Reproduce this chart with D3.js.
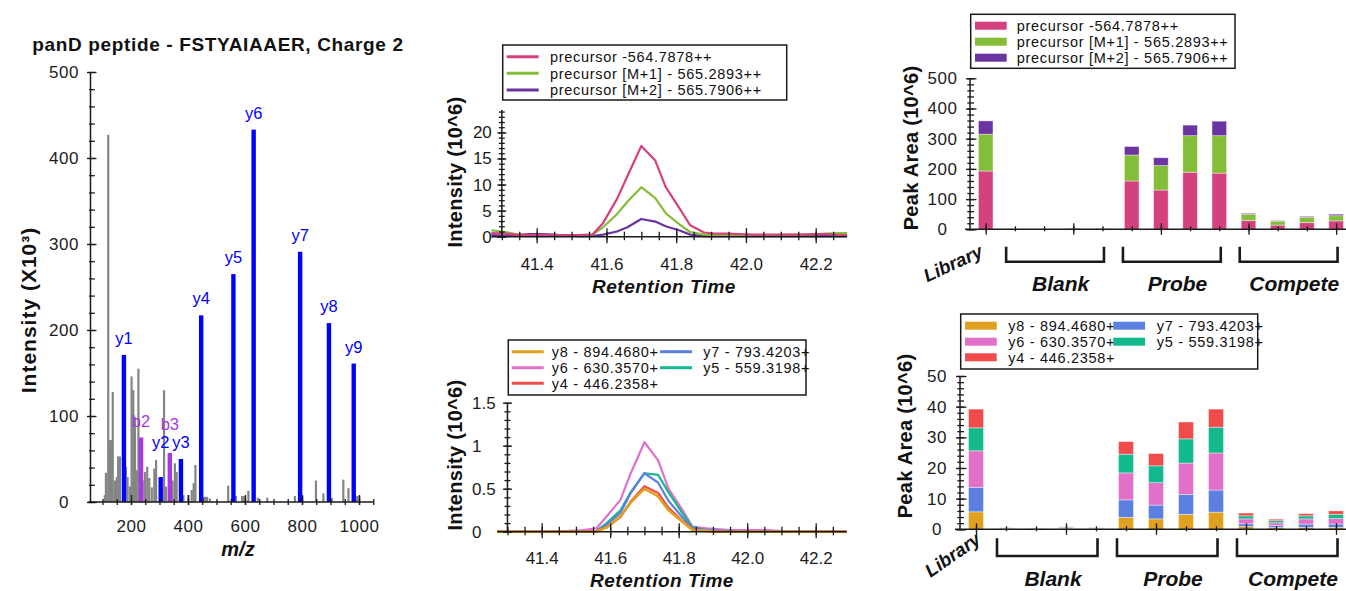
<!DOCTYPE html>
<html>
<head>
<meta charset="utf-8">
<title>panD peptide - FSTYAIAAER</title>
<script src="https://cdn.jsdelivr.net/npm/d3@7"></script>
<style>
  body { margin: 0; background: #fff; }
  svg text { font-family: "Liberation Sans", Arial, Helvetica, sans-serif; }
</style>
</head>
<body>
<svg id="fig" width="1346" height="591"></svg>
<script>
// ---------- data: MS/MS spectrum (intensity x10^3) ----------
var grayMz  = [108, 112, 120, 124, 130, 136, 144, 150, 155, 161, 182, 188, 196, 202, 208, 214, 220, 226,
               241, 249, 257, 264, 273, 282, 288, 308, 316, 323, 346, 354, 360, 384, 401, 413, 420, 426,
               453, 460, 467, 477, 541, 568, 590, 597, 612, 645, 678, 775, 801, 849, 875, 904, 945, 963, 993, 1001];
var grayInt = [8, 34, 427, 72, 72, 128, 25, 29, 53, 53, 41, 29, 18, 146, 130, 99, 37, 155,
               25, 35, 41, 28, 17, 39, 49, 14, 130, 18, 25, 45, 35, 8, 8, 14, 22, 43,
               6, 6, 6, 4, 19, 7, 7, 7, 13, 5, 5, 7, 7, 25, 10, 5, 26, 16, 7, 7];
var ionNames = ["y1", "b2", "y2", "b3", "y3", "y4", "y5", "y6", "y7", "y8", "y9"];
var ionMz    = [175.12, 235.11, 304.16, 336.16, 375.20, 446.24, 559.32, 630.36, 793.42, 894.47, 981.50];
var ionInt   = [171, 75, 29, 57, 50, 217, 265, 433, 291, 208, 161];

// ---------- data: chromatograms ----------
var rtTimes = [41.27, 41.31, 41.34, 41.38, 41.41, 41.45, 41.48, 41.52, 41.56, 41.59, 41.63, 41.66, 41.70, 41.74, 41.77,
               41.81, 41.84, 41.88, 41.91, 41.95, 41.98, 42.02, 42.06, 42.09, 42.13, 42.16, 42.20, 42.23, 42.27, 42.29];
var precM0 = [0.7, 0.6, 0.4, 0.3, 0.3, 0.3, 0.3, 0.3, 0.4, 2.6, 7.2, 11.6, 17.4, 14.6, 9.5,
              5.4, 2.2, 0.8, 0.6, 0.6, 0.5, 0.4, 0.4, 0.4, 0.4, 0.4, 0.5, 0.5, 0.3, 0.3];
var precM1 = [1.2, 0.9, 0.5, 0.2, 0.2, 0.2, 0.3, 0.3, 0.4, 1.8, 4.3, 6.7, 9.5, 7.4, 4.5,
              2.3, 0.9, 0.4, 0.3, 0.3, 0.2, 0.2, 0.2, 0.3, 0.4, 0.4, 0.5, 0.6, 0.7, 0.7];
var precM2 = [0.3, 0.2, 0.3, 0.5, 0.5, 0.4, 0.2, 0.1, 0.1, 0.4, 1.0, 1.8, 3.4, 2.9, 2.0,
              1.2, 0.4, 0.1, 0.1, 0.1, 0.1, 0.1, 0.1, 0.1, 0.1, 0.1, 0.1, 0.1, 0.1, 0.1];
var fragY8 = [0, 0, 0, 0, 0, 0, 0, 0, 0, 0.05, 0.18, 0.34, 0.50, 0.41, 0.25,
              0.12, 0.02, 0.01, 0, 0, 0, 0, 0, 0, 0, 0, 0, 0, 0, 0];
var fragY7 = [0, 0, 0, 0, 0, 0, 0, 0, 0.01, 0.08, 0.22, 0.45, 0.68, 0.57, 0.36,
              0.17, 0.04, 0.02, 0.01, 0, 0, 0, 0, 0, 0, 0, 0, 0, 0, 0];
var fragY6 = [0, 0, 0, 0, 0, 0, 0.01, 0.02, 0.04, 0.18, 0.37, 0.68, 1.04, 0.83, 0.50,
              0.26, 0.06, 0.04, 0.03, 0.02, 0.02, 0.02, 0.02, 0.01, 0, 0, 0, 0, 0, 0];
var fragY5 = [0, 0, 0, 0, 0, 0, 0, 0, 0.01, 0.10, 0.25, 0.46, 0.68, 0.66, 0.46,
              0.22, 0.05, 0.02, 0.01, 0.01, 0, 0, 0, 0, 0, 0, 0, 0, 0, 0];
var fragY4 = [0, 0, 0, 0, 0, 0, 0, 0, 0.01, 0.05, 0.17, 0.35, 0.53, 0.45, 0.28,
              0.13, 0.03, 0.01, 0, 0, 0, 0, 0, 0, 0, 0, 0, 0, 0, 0];

// ---------- data: peak areas (10^6) ----------
var replicates = ["Library", "Blank 1", "Blank 2", "Blank 3", "Blank 4", "Probe 1", "Probe 2", "Probe 3", "Probe 4",
                  "Compete 1", "Compete 2", "Compete 3", "Compete 4"];
var groupNames = ["Blank", "Probe", "Compete"];
var areaM0 = [193, 0.5, 0.5, 2, 1.5, 160, 130, 189, 186, 29, 14, 22, 28];
var areaM1 = [122, 0.3, 0.3, 1.5, 1, 86, 81, 121, 124, 21, 13, 18, 17];
var areaM2 = [44, 0.2, 0.1, 0.5, 0.5, 28, 26, 35, 48, 3, 2, 3, 5];
var areaY8 = [5.7, 0.1, 0.05, 0.15, 0.1, 3.9, 3.4, 4.9, 5.6, 0.9, 0.6, 0.65, 0.65];
var areaY7 = [8.0, 0.1, 0.05, 0.15, 0.1, 5.7, 4.5, 6.5, 7.2, 0.9, 0.6, 1.05, 1.05];
var areaY6 = [11.9, 0.15, 0.1, 0.2, 0.15, 8.8, 7.3, 10.2, 12.1, 1.6, 0.9, 1.7, 1.8];
var areaY5 = [7.5, 0.1, 0.05, 0.2, 0.1, 6.1, 5.5, 7.9, 8.4, 1.0, 0.7, 1.0, 1.4];
var areaY4 = [6.1, 0.05, 0.05, 0.1, 0.05, 4.1, 4.0, 5.5, 5.9, 0.9, 0.5, 0.7, 1.1];

var precLabels = ["precursor -564.7878++", "precursor [M+1] - 565.2893++", "precursor [M+2] - 565.7906++"];
var fragLabels = ["y8 - 894.4680+", "y7 - 793.4203+", "y6 - 630.3570+", "y5 - 559.3198+", "y4 - 446.2358+"];
var precColors = ["#d4417f", "#84bd37", "#6a35a0"];
var fragColors = ["#e0a020", "#5b80e0", "#e070c8", "#12b98c", "#f04c4c"];

var svg = d3.select("#fig");
svg.append("rect").attr("width", 1346).attr("height", 591).attr("fill", "#fff");
var INK = "#1a1a1a";

// ticks that cross the axis line: a = outside length, b = inside length
function crossTicks(vertical, pos, scale, vals, a, b, sw) {
  [0, 1].forEach(function (side) {
    var ax;
    if (vertical) ax = side ? d3.axisRight(scale) : d3.axisLeft(scale);
    else ax = side ? d3.axisTop(scale) : d3.axisBottom(scale);
    var g = svg.append("g")
      .attr("transform", vertical ? "translate(" + pos + ",0)" : "translate(0," + pos + ")")
      .call(ax.tickValues(vals).tickSize(side ? b : a).tickFormat(""));
    g.select(".domain").remove();
    g.selectAll("line").attr("stroke", INK).attr("stroke-width", sw || 1.3);
  });
}

function tickText(vertical, pos, scale, vals, pad, fmt) {
  var ax = vertical ? d3.axisLeft(scale) : d3.axisBottom(scale);
  var g = svg.append("g")
    .attr("transform", vertical ? "translate(" + pos + ",0)" : "translate(0," + pos + ")")
    .call(ax.tickValues(vals).tickSize(0).tickPadding(pad).tickFormat(fmt));
  g.select(".domain").remove();
  g.selectAll("text").attr("font-size", 17).attr("fill", "#1c1c1c");
  return g;
}

function line(x1, y1, x2, y2, w) {
  return svg.append("line").attr("x1", x1).attr("y1", y1).attr("x2", x2).attr("y2", y2)
    .attr("stroke", INK).attr("stroke-width", w || 1.5);
}

function label(txt, x, y, size, opts) {
  opts = opts || {};
  var t = svg.append("text").attr("x", x).attr("y", y).attr("font-size", size)
    .attr("text-anchor", opts.anchor || "middle").attr("fill", opts.fill || "#111")
    .attr("font-weight", opts.bold ? "bold" : null)
    .attr("font-style", opts.italic ? "italic" : null)
    .attr("letter-spacing", opts.ls || 0)
    .text(txt);
  if (opts.rotate) {
    t.attr("x", 0).attr("y", 0).attr("dy", opts.dy || null)
      .attr("transform", "translate(" + x + "," + y + ") rotate(" + opts.rotate + ")");
  }
  return t;
}

// ================= Panel 1: spectrum =================
var xS = d3.scaleLinear().domain([200, 1000]).range([131, 359]);
var yS = d3.scaleLinear().domain([0, 500]).range([502, 72]);

svg.append("g").selectAll("rect").data(grayMz).join("rect")
  .attr("x", function (d) { return xS(d) - 1.1; }).attr("width", 2.2)
  .attr("y", function (d, i) { return yS(grayInt[i]); })
  .attr("height", function (d, i) { return yS(0) - yS(grayInt[i]); })
  .attr("fill", "#858585");

var ionColor = function (n) { return n[0] === "b" ? "#a838e0" : "#0000ff"; };
svg.append("g").selectAll("rect").data(ionMz).join("rect")
  .attr("x", function (d) { return xS(d) - 2.2; }).attr("width", 4.4)
  .attr("y", function (d, i) { return yS(ionInt[i]); })
  .attr("height", function (d, i) { return yS(0) - yS(ionInt[i]); })
  .attr("fill", function (d, i) { return ionColor(ionNames[i]); });

// ion labels: sit above their bar, raised when they hit another label or ion bar
var FS = 16.5, ASC = 0.8 * FS, DSC = 0.22 * FS;
var placed = [];
d3.range(ionMz.length).sort(function (a, b) { return ionMz[b] - ionMz[a]; }).forEach(function (i) {
  var x = xS(ionMz[i]);
  var t = label(ionNames[i], x, 0, FS, { fill: ionColor(ionNames[i]) });
  var w = t.node().getComputedTextLength();
  var base = yS(ionInt[i]) - 11;
  for (var k = 0; k < 10; k++) {
    var box = [x - w / 2, base - ASC, x + w / 2, base + DSC];
    var hits = placed.slice();
    ionMz.forEach(function (m, j) {
      if (j !== i) hits.push([xS(m) - 2.2, yS(ionInt[j]), xS(m) + 2.2, yS(0)]);
    });
    hits = hits.filter(function (o) { return box[0] < o[2] && box[2] > o[0] && box[1] < o[3] && box[3] > o[1]; });
    if (!hits.length) break;
    base = d3.min(hits, function (o) { return o[1]; }) - DSC - 1;
  }
  t.attr("y", base);
  placed.push([x - w / 2, base - ASC, x + w / 2, base + DSC]);
});

line(90.5, yS(0), 90.5, yS(500));
line(xS(50), yS(0), xS(1050), yS(0));
crossTicks(true, 90.5, yS, d3.range(0, 501, 20), 1.5, 4.3);
crossTicks(true, 90.5, yS, d3.range(0, 501, 100), 3.5, 6);
crossTicks(false, yS(0), xS, d3.range(100, 1051, 50), 3, 3);
crossTicks(false, yS(0), xS, d3.range(200, 1001, 200), 3, 7);
tickText(true, 90.5, yS, d3.range(0, 501, 100), 11, d3.format("d"))
  .selectAll("text").attr("text-anchor", "middle").attr("x", 64 - 90.5).attr("letter-spacing", 0.5);
tickText(false, yS(0), xS, d3.range(200, 1001, 200), 18, d3.format("d"))
  .selectAll("text").attr("letter-spacing", 0.5);

label("panD peptide - FSTYAIAAER, Charge 2", 218, 51, 19, { bold: true, ls: 0.65 });
label("Intensity (X10\u00B3)", 28, 310, 21, { bold: true, rotate: -90, dy: "0.36em", ls: 1 });
label("m/z", 238, 556, 20, { bold: true, italic: true });

// ================= Panels 2 & 3: chromatograms =================
function chromPanel(cfg) {
  var x = d3.scaleLinear().domain([41.4, 42.2]).range(cfg.xr);
  var y = d3.scaleLinear().domain([0, cfg.ymax]).range([cfg.y0, cfg.ytop]);
  var ax = x(41.3);
  var gen = d3.line().x(function (d, i) { return x(rtTimes[i]); }).y(function (d) { return y(d); });
  cfg.order.forEach(function (k) {
    svg.append("path").attr("d", gen(cfg.series[k])).attr("fill", "none")
      .attr("stroke", cfg.colors[k]).attr("stroke-width", cfg.lw[k]).attr("stroke-linejoin", "round");
  });
  line(x(41.27), cfg.y0, x(42.29), cfg.y0);
  line(ax, cfg.y0, ax, cfg.ytop);
  crossTicks(true, ax, y, cfg.yMinor, 3, 3);
  crossTicks(true, ax, y, cfg.yMajor, 4.5, 4.5);
  var minors = d3.range(0, 20).map(function (i) { return 41.3 + i * 0.05; });
  crossTicks(false, cfg.y0, x, minors, 3.5, 5);
  crossTicks(false, cfg.y0, x, [41.4, 41.6, 41.8, 42.0, 42.2], 6.5, 8.5);
  tickText(false, cfg.y0, x, [41.4, 41.6, 41.8, 42.0, 42.2], cfg.xPad, d3.format(".1f"));
  var yt = tickText(true, ax, y, cfg.yMajor, 10, function (d) { return String(d); });
  if (cfg.yLeftAlign != null) yt.selectAll("text").attr("text-anchor", "start").attr("x", cfg.yLeftAlign - ax);
  label("Retention Time", cfg.titleX, cfg.titleY, 19, { bold: true, italic: true, ls: 0.5 });
  label("Intensity (10^6)", 455, cfg.ylabY, 20, { bold: true, rotate: -90, dy: "0.36em", ls: 0.3 });

  // legend
  var lg = cfg.legend;
  svg.append("rect").attr("x", lg.box[0]).attr("y", lg.box[1]).attr("width", lg.box[2]).attr("height", lg.box[3])
    .attr("fill", "#fff").attr("stroke", INK).attr("stroke-width", 1.5);
  cfg.labels.forEach(function (txt, i) {
    var c = lg.cols ? i % lg.cols : 0, r = lg.cols ? Math.floor(i / lg.cols) : i;
    var sx = lg.sw[c], ry = lg.rows[r];
    svg.append("line").attr("x1", sx).attr("x2", sx + 32).attr("y1", ry).attr("y2", ry)
      .attr("stroke", cfg.colors[i]).attr("stroke-width", 3);
    label(txt, lg.tx[c], ry, 14.5, { anchor: "start", ls: 0.7 }).attr("dy", "0.36em");
  });
}

chromPanel({
  xr: [536.7, 815.7], y0: 236.7, ytop: 110, ymax: 24.3,
  yMinor: d3.range(0, 25, 1), yMajor: [0, 5, 10, 15, 20], xPad: 21,
  series: [precM0, precM1, precM2], colors: precColors, lw: [2.2, 2.2, 2.2], order: [2, 1, 0],
  labels: precLabels, titleX: 664, titleY: 293, ylabY: 172,
  legend: { box: [502.7, 45, 284, 55], sw: [506.7], tx: [550], rows: [56.7, 73.3, 90] }
});

chromPanel({
  xr: [541.7, 815.7], y0: 531.7, ytop: 402.7, ymax: 1.5,
  yMinor: d3.range(0, 16).map(function (i) { return i / 10; }), yMajor: [0, 0.5, 1, 1.5], xPad: 20,
  yLeftAlign: 472,
  series: [fragY8, fragY7, fragY6, fragY5, fragY4], colors: fragColors, lw: [2.6, 2.2, 2.2, 2.2, 2.2],
  order: [2, 3, 1, 4, 0],
  labels: fragLabels, titleX: 662, titleY: 587, ylabY: 455,
  legend: { box: [508.3, 340, 297.7, 55], cols: 2, sw: [511.7, 660], tx: [551.7, 703.3], rows: [351.7, 367.7, 383.3] }
});

// ================= Panels 4 & 5: peak area bars =================
function barPanel(cfg) {
  var x = d3.scaleBand().domain(replicates).range(cfg.xr).paddingInner(0.5).paddingOuter(0.25);
  var y = d3.scaleLinear().domain([0, cfg.ymax]).range([cfg.y0, cfg.ytop]);
  var rows = replicates.map(function (r, i) {
    var o = { rep: r };
    cfg.series.forEach(function (s, j) { o["k" + j] = s[i]; });
    return o;
  });
  var keys = cfg.series.map(function (s, j) { return "k" + j; });
  var layers = d3.stack().keys(keys)(rows);
  svg.append("g").selectAll("g").data(layers).join("g")
    .attr("fill", function (d, i) { return cfg.colors[i]; })
    .selectAll("rect").data(function (d) { return d; }).join("rect")
    .attr("x", function (d) { return x(d.data.rep); }).attr("width", x.bandwidth())
    .attr("y", function (d) { return y(d[1]); })
    .attr("height", function (d) { return y(d[0]) - y(d[1]); })
    .attr("stroke", "#fff").attr("stroke-opacity", 0.5).attr("stroke-width", 0.8);

  var cx = function (r) { return x(r) + x.bandwidth() / 2; };
  var px = d3.scalePoint().domain(replicates).range([cx(replicates[0]), cx(replicates[replicates.length - 1])]);
  line(cfg.ax, cfg.y0, cfg.ax, cfg.ytop);
  line(cfg.ax - 5, cfg.y0, 1346, cfg.y0);
  crossTicks(true, cfg.ax, y, cfg.yMinor, 2.7, 4);
  crossTicks(true, cfg.ax, y, cfg.yMajor, 4, 6.5);
  crossTicks(false, cfg.y0, px, replicates, 2, 3);
  crossTicks(false, cfg.y0, px, replicates.filter(function (r, i) { return i % 3 === 0; }), 5.5, 6);
  tickText(true, cfg.ax, y, cfg.yMajor, 10, d3.format("d"))
    .selectAll("text").attr("text-anchor", "middle").attr("x", cfg.yLabX - cfg.ax).attr("letter-spacing", 0.5);
  label("Peak Area (10^6)", cfg.ylab[0], cfg.ylab[1], 20, { bold: true, rotate: -90, dy: "0.36em", ls: 0.3 });

  label("Library", cfg.lib[0], cfg.lib[1], 18.5, { bold: true, italic: true, anchor: "end", rotate: cfg.lib[2] });
  groupNames.forEach(function (gname) {
    var mem = replicates.filter(function (r) { return r.indexOf(gname) === 0; });
    var a = cx(mem[0]), b = cx(mem[mem.length - 1]);
    var x1 = a - 0.3 * x.step(), x2 = b + 0.05 * x.step();
    svg.append("path")
      .attr("d", "M" + x1 + "," + cfg.br[0] + "V" + cfg.br[1] + "H" + x2 + "V" + cfg.br[0])
      .attr("fill", "none").attr("stroke", INK).attr("stroke-width", 2.6);
    label(gname, (a + b) / 2 + 2, cfg.groupY, 21, { bold: true, italic: true });
  });

  var lg = cfg.legend;
  svg.append("rect").attr("x", lg.box[0]).attr("y", lg.box[1]).attr("width", lg.box[2]).attr("height", lg.box[3])
    .attr("fill", "#fff").attr("stroke", INK).attr("stroke-width", 1.5);
  cfg.labels.forEach(function (txt, i) {
    var c = lg.cols ? i % lg.cols : 0, r = lg.cols ? Math.floor(i / lg.cols) : i;
    svg.append("rect").attr("x", lg.sw[c]).attr("y", lg.rows[r] - 4).attr("width", 31.7).attr("height", 8)
      .attr("fill", cfg.colors[i]);
    label(txt, lg.tx[c], lg.rows[r], 14.5, { anchor: "start", ls: 0.7 }).attr("dy", "0.36em");
  });
}

barPanel({
  xr: [971.1, 1350.7], y0: 229.3, ytop: 78.3, ymax: 500, ax: 970, yLabX: 942.5,
  yMinor: d3.range(0, 501, 20), yMajor: d3.range(0, 501, 100),
  series: [areaM0, areaM1, areaM2], colors: precColors, labels: precLabels,
  ylab: [911, 148], lib: [984, 256, -25], br: [246.7, 261.7], groupY: 291,
  legend: { box: [970.7, 14.3, 264.3, 54], sw: [975], tx: [1016.7], rows: [25.7, 41.7, 57.7] }
});

barPanel({
  xr: [961, 1351], y0: 529.3, ytop: 376, ymax: 50, ax: 960, yLabX: 937,
  yMinor: d3.range(0, 51, 2), yMajor: d3.range(0, 51, 10),
  series: [areaY8, areaY7, areaY6, areaY5, areaY4], colors: fragColors, labels: fragLabels,
  ylab: [905, 436], lib: [982, 542, -35], br: [538.3, 556], groupY: 586,
  legend: { box: [960.7, 314, 297, 55], cols: 2, sw: [965, 1113.3], tx: [1008.3, 1156.7], rows: [325.7, 341.7, 357.3] }
});
</script>
</body>
</html>
